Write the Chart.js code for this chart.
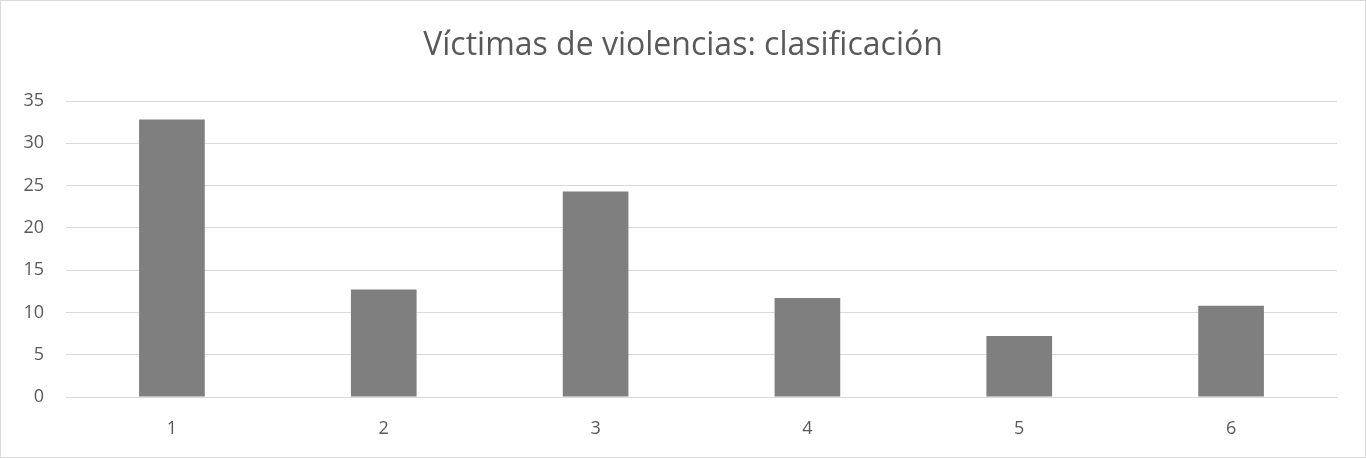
<!DOCTYPE html>
<html>
<head>
<meta charset="utf-8">
<script src="https://cdn.jsdelivr.net/npm/chart.js@4/dist/chart.umd.min.js"></script>
<style>
  html, body { margin: 0; padding: 0; background: #fff; }
  #wrap { position: relative; width: 1366px; height: 458px; box-sizing: border-box; border: 1px solid #d9d9d9; }
  canvas { display: block; }
</style>
</head>
<body>
<div id="wrap"><canvas id="myBarChart"></canvas></div>
<script>
  var categories = ["1", "2", "3", "4", "5", "6"];
  var victimas = [32.8, 12.7, 24.3, 11.7, 7.2, 10.8];
  var yTicks = [0, 5, 10, 15, 20, 25, 30, 35];

  var fontFamily = "'Open Sans', 'Noto Sans', sans-serif";
  var textColor = "#595959";
  var gridColor = "#d9d9d9";

  var ctx = document.getElementById("myBarChart").getContext("2d");

  var myChart = new Chart(ctx, {
    type: "bar",
    data: {
      labels: categories,
      datasets: [{
        label: "Víctimas",
        data: victimas,
        backgroundColor: "#7f7f7f",
        barPercentage: 1,
        categoryPercentage: 0.31,
      }],
    },
    options: {
      responsive: true,
      maintainAspectRatio: false,
      animation: false,
      layout: {
        padding: 0,
      },
      plugins: {
        legend: { display: false },
        tooltip: { enabled: false },
        title: {
          display: true,
          text: "Víctimas de violencias: clasificación",
          color: textColor,
          font: { family: fontFamily, size: 32, weight: "normal" },
          padding: { top: 26, bottom: 35.6 },
        },
      },
      scales: {
        x: {
          grid: { display: false, drawTicks: false },
          border: { display: true, color: gridColor, width: 1 },
          ticks: {
            color: textColor,
            font: { family: fontFamily, size: 18 },
            padding: 21,
          },
          afterFit: function (scale) { scale.height = 60; },
        },
        y: {
          min: 0,
          max: 35,
          grid: { color: gridColor, lineWidth: 1, drawTicks: false },
          border: { display: false },
          afterBuildTicks: function (scale) {
            scale.ticks = yTicks.map(function (v) { return { value: v }; });
          },
          ticks: {
            color: textColor,
            font: { family: fontFamily, size: 18 },
            padding: 22,
          },
          afterFit: function (scale) { scale.width = 65; },
        },
        // espace vide à droite, pour garder le titre centré sur toute la largeur
        yRight: {
          position: "right",
          display: true,
          grid: { display: false, drawTicks: false },
          border: { display: false },
          ticks: { display: false },
          afterFit: function (scale) { scale.width = 28; },
        },
      },
    },
  });
</script>
</body>
</html>
